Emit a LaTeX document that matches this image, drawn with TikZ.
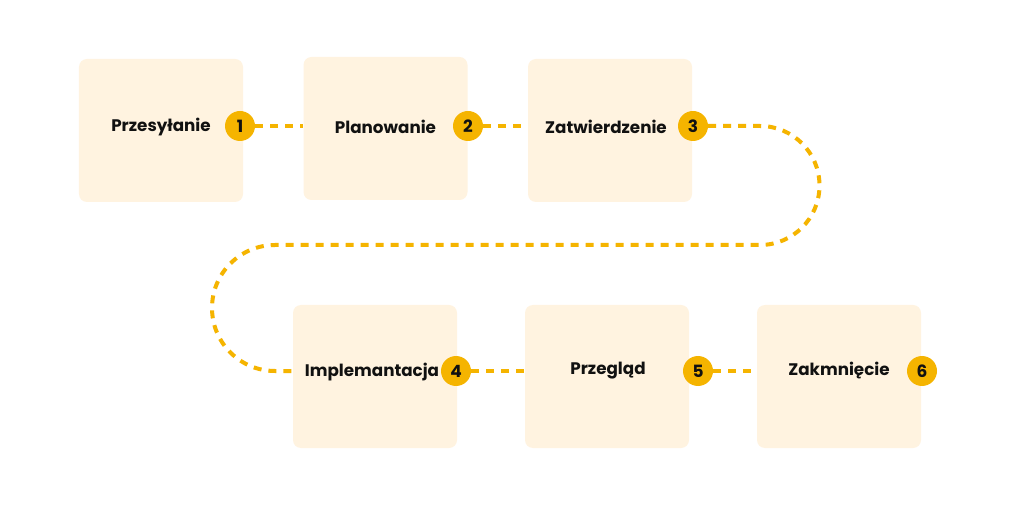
\documentclass[tikz,border=0pt]{standalone}
\usepackage{fontspec}
\setmainfont{Poppins}
\usetikzlibrary{positioning,calc}

\definecolor{krem}{RGB}{255,243,224}
\definecolor{zolty}{RGB}{245,180,0}
\definecolor{tusz}{RGB}{17,17,17}

\tikzset{
  etap/.style={fill=krem,rounded corners=8bp,minimum width=164bp,minimum height=143bp,inner sep=0pt},
  napis/.style={text=tusz,font=\bfseries\fontsize{16.8}{20}\selectfont,inner sep=0pt},
  numer/.style={circle,fill=zolty,minimum size=30bp,inner sep=0pt,text=tusz,font=\bfseries\fontsize{17}{18}\selectfont},
  sciezka/.style={draw=zolty,line width=4bp,dash pattern=on 8bp off 7bp},
}

\begin{document}
\begin{tikzpicture}[x=1bp,y=-1bp]
  \useasboundingbox[fill=white] (0,0) rectangle (1024,531);

  % pola etapów (górny rząd)
  \node[etap] (b1) at (161,130.5) {};
  \node[etap] (b2) at (385.5,128.5) {};
  \node[etap] (b3) at (610,130.5) {};
  % pola etapów (dolny rząd)
  \node[etap] (b4) at (375,376.5) {};
  \node[etap] (b5) at (607,376.5) {};
  \node[etap] (b6) at (839,376.5) {};

  % numery etapów
  \node[numer] (c1) at (240,126) {1};
  \node[numer] (c2) at (468,126) {2};
  \node[numer] (c3) at (693,126) {3};
  \node[numer] (c4) at (456,371) {4};
  \node[numer] (c5) at (698,371) {5};
  \node[numer] (c6) at (922,371) {6};

  % nazwy etapów
  \node[napis] (t1) at ($(b1 |- c1)+(0,1)$) {Przesyłanie};
  \node[napis] (t2) at ($(b2 |- c2)+(0,1)$) {Planowanie};
  \node[napis] (t3) at ($(b3 |- c3)+(-4,1)$) {Zatwierdzenie};
  \node[napis] (t4) at ($(b4 |- c4)+(-3,1)$) {Implemantacja};
  \node[napis] (t5) at ($(b5 |- c5)+(1,0)$) {Przegląd};
  \node[napis] (t6) at ($(b6 |- c6)+(0,0)$) {Zakmnięcie};

  % ścieżka przerywana między etapami
  \draw[sciezka] (c1.east) -- (c1.east -| b2.west);
  \draw[sciezka] (c2.east) -- (c2.east -| b3.west);
  \draw[sciezka] (c3.east) -- (760,126)
    arc[start angle=-90,end angle=90,radius=59.5] -- (275,245)
    arc[start angle=-90,end angle=-270,radius=63] -- (c4 -| b4.west);
  \draw[sciezka] (c4.east) -- (c4.east -| b5.west);
  \draw[sciezka] (c5.east) -- (c5.east -| b6.west);
\end{tikzpicture}
\end{document}
